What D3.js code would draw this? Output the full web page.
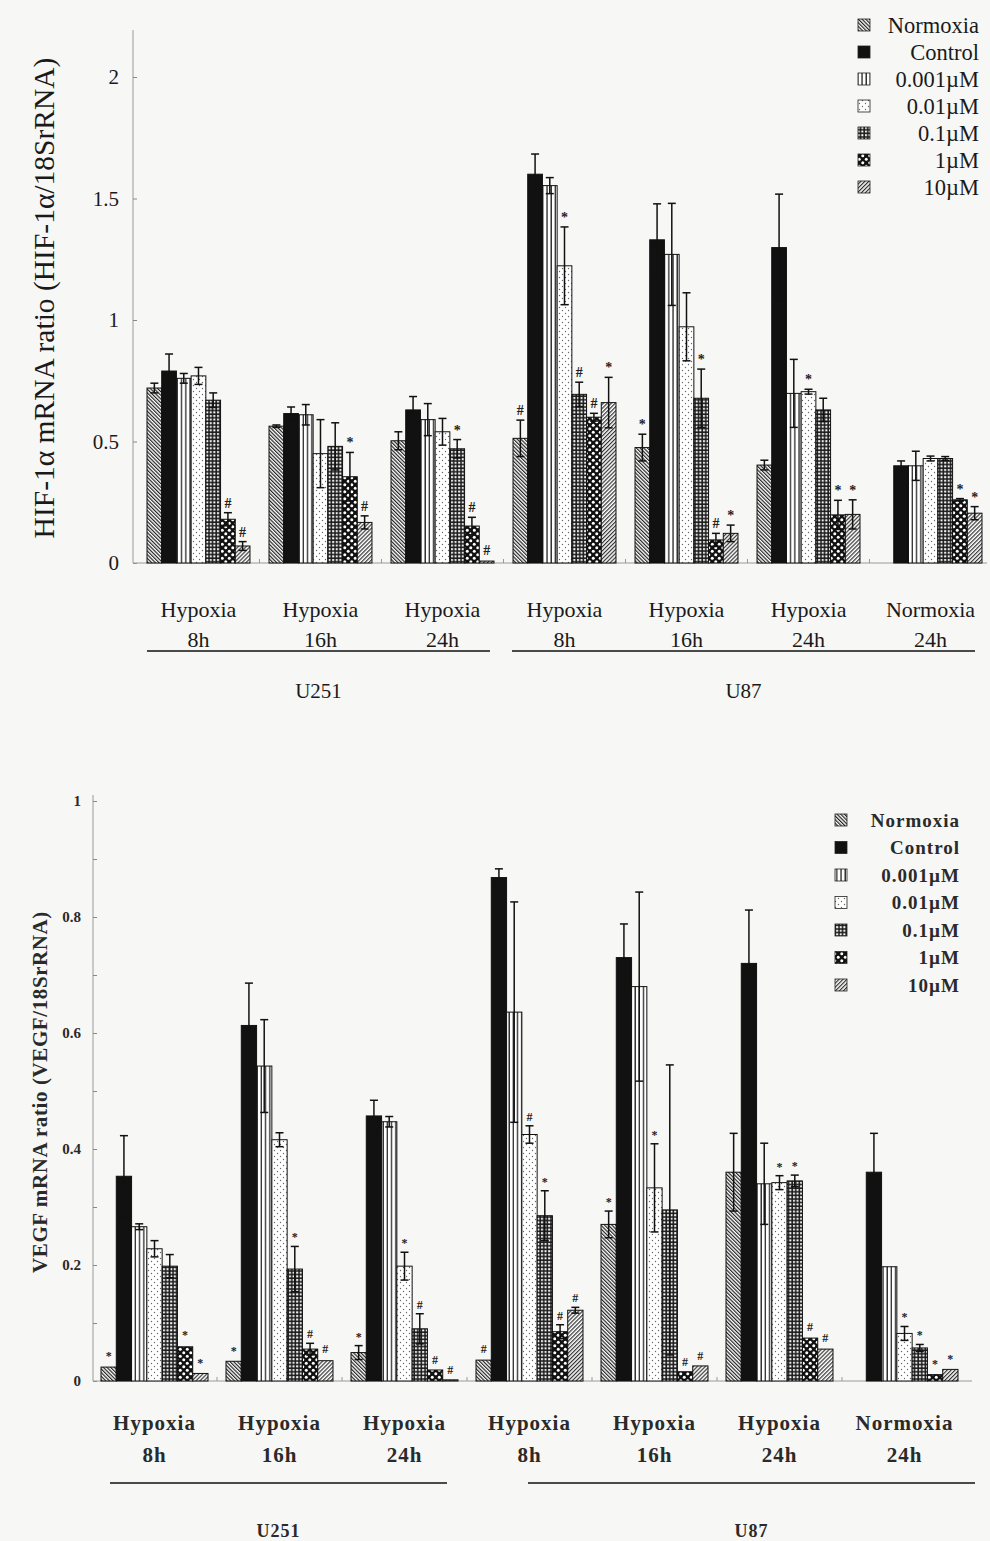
<!DOCTYPE html>
<html>
<head>
<meta charset="utf-8">
<script src="https://cdn.jsdelivr.net/npm/d3@7"></script>
<style>
  body { margin: 0; background: #f7f7f5; }
  svg { display: block; }
</style>
</head>
<body>
<svg id="fig"></svg>
<script>
// ---- data ----
const series = ["Normoxia", "Control", "0.001\u00b5M", "0.01\u00b5M", "0.1\u00b5M", "1\u00b5M", "10\u00b5M"];
const groupIds = ["U251-H8", "U251-H16", "U251-H24", "U87-H8", "U87-H16", "U87-H24", "U87-N24"];
const conditions = ["Hypoxia", "Hypoxia", "Hypoxia", "Hypoxia", "Hypoxia", "Hypoxia", "Normoxia"];
const times = ["8h", "16h", "24h", "8h", "16h", "24h", "24h"];
const cellLines = ["U251", "U87"];
const cellLineSpan = [[0, 2], [3, 6]];

// HIF-1a (top panel), one row per group, one column per series
const hifValues = [
    [0.72, 0.79, 0.76, 0.77, 0.67, 0.18, 0.07],
    [0.563, 0.615, 0.61, 0.45, 0.48, 0.355, 0.167],
    [0.503, 0.63, 0.59, 0.54, 0.47, 0.152, 0.008],
    [0.513, 1.60, 1.553, 1.223, 0.694, 0.60, 0.66],
    [0.475, 1.33, 1.27, 0.972, 0.678, 0.095, 0.122],
    [0.403, 1.298, 0.698, 0.705, 0.63, 0.198, 0.20],
    [null, 0.40, 0.40, 0.43, 0.43, 0.26, 0.205],
];
const hifErrors = [
    [0.02, 0.07, 0.02, 0.035, 0.03, 0.027, 0.018],
    [0.005, 0.027, 0.042, 0.14, 0.097, 0.10, 0.027],
    [0.037, 0.055, 0.066, 0.055, 0.038, 0.036, 0.003],
    [0.075, 0.083, 0.033, 0.16, 0.05, 0.016, 0.104],
    [0.055, 0.148, 0.21, 0.14, 0.12, 0.027, 0.034],
    [0.02, 0.22, 0.14, 0.01, 0.048, 0.06, 0.06],
    [0, 0.02, 0.06, 0.01, 0.008, 0.005, 0.027],
];
const hifMarks = [
    ["", "", "", "", "", "#", "#"],
    ["", "", "", "", "", "*", "#"],
    ["", "", "", "", "*", "#", "#"],
    ["#", "", "", "*", "#", "#", "*"],
    ["*", "", "", "", "*", "#", "*"],
    ["", "", "", "*", "", "*", "*"],
    ["", "", "", "", "", "*", "*"],
];

// VEGF (bottom panel)
const vegfValues = [
    [0.024, 0.353, 0.266, 0.228, 0.198, 0.059, 0.013],
    [0.034, 0.613, 0.543, 0.416, 0.193, 0.055, 0.035],
    [0.049, 0.457, 0.447, 0.198, 0.09, 0.019, 0.002],
    [0.036, 0.868, 0.636, 0.425, 0.285, 0.085, 0.122],
    [0.27, 0.73, 0.68, 0.333, 0.295, 0.016, 0.026],
    [0.36, 0.72, 0.34, 0.342, 0.345, 0.074, 0.055],
    [null, 0.36, 0.197, 0.082, 0.057, 0.011, 0.02],
];
const vegfErrors = [
    [0.003, 0.07, 0.005, 0.014, 0.02, 0.004, 0.002],
    [0.003, 0.073, 0.08, 0.012, 0.039, 0.01, 0.004],
    [0.012, 0.027, 0.009, 0.024, 0.026, 0.002, 0.001],
    [0.004, 0.015, 0.19, 0.015, 0.043, 0.012, 0.005],
    [0.023, 0.058, 0.163, 0.076, 0.25, 0.002, 0.002],
    [0.067, 0.092, 0.07, 0.012, 0.01, 0.004, 0.003],
    [0, 0.067, 0.003, 0.012, 0.006, 0.002, 0.003],
];
const vegfMarks = [
    ["*", "", "", "", "", "*", "*"],
    ["*", "", "", "", "*", "#", "#"],
    ["*", "", "", "*", "#", "#", "#"],
    ["#", "", "", "#", "*", "#", "#"],
    ["*", "", "", "*", "", "#", "#"],
    ["", "", "", "*", "*", "#", "#"],
    ["", "", "", "*", "*", "*", "*"],
];

const hifTicks = [0, 0.5, 1, 1.5, 2];
const vegfTicks = [0, 0.1, 0.2, 0.3, 0.4, 0.5, 0.6, 0.7, 0.8, 0.9, 1];
const vegfLabelled = [0, 0.2, 0.4, 0.6, 0.8, 1];

// ---- drawing ----
const W = 990, H = 1541;
const svg = d3.select("#fig").attr("width", W).attr("height", H);
svg.append("rect").attr("width", W).attr("height", H).attr("fill", "#f7f7f5");
const defs = svg.append("defs");

function makePatterns(sfx) {
    // Normoxia: "\" hatch
    let p = defs.append("pattern").attr("id", "p0" + sfx).attr("patternUnits", "userSpaceOnUse")
        .attr("width", 2.6).attr("height", 10).attr("patternTransform", "rotate(-45)");
    p.append("rect").attr("width", 2.6).attr("height", 10).attr("fill", "#fff");
    p.append("line").attr("x1", 0.6).attr("x2", 0.6).attr("y1", 0).attr("y2", 10).attr("stroke", "#222").attr("stroke-width", 1.2);
    // Control: solid black
    p = defs.append("pattern").attr("id", "p1" + sfx).attr("patternUnits", "userSpaceOnUse").attr("width", 4).attr("height", 4);
    p.append("rect").attr("width", 4).attr("height", 4).attr("fill", "#111");
    // 0.001: vertical lines
    p = defs.append("pattern").attr("id", "p2" + sfx).attr("patternUnits", "userSpaceOnUse").attr("width", 4.2).attr("height", 4);
    p.append("rect").attr("width", 4.2).attr("height", 4).attr("fill", "#fff");
    p.append("line").attr("x1", 1).attr("x2", 1).attr("y1", 0).attr("y2", 4).attr("stroke", "#111").attr("stroke-width", 1.2);
    // 0.01: sparse dots
    p = defs.append("pattern").attr("id", "p3" + sfx).attr("patternUnits", "userSpaceOnUse").attr("width", 6).attr("height", 6);
    p.append("rect").attr("width", 6).attr("height", 6).attr("fill", "#fff");
    p.append("circle").attr("cx", 1.5).attr("cy", 1.5).attr("r", 0.7).attr("fill", "#666");
    p.append("circle").attr("cx", 4.5).attr("cy", 4.5).attr("r", 0.7).attr("fill", "#666");
    // 0.1: dark grid with small white squares
    p = defs.append("pattern").attr("id", "p4" + sfx).attr("patternUnits", "userSpaceOnUse").attr("width", 3.6).attr("height", 3.6);
    p.append("rect").attr("width", 3.6).attr("height", 3.6).attr("fill", "#1a1a1a");
    p.append("rect").attr("x", 1).attr("y", 1).attr("width", 2).attr("height", 2).attr("fill", "#fff");
    // 1: black with white circles
    p = defs.append("pattern").attr("id", "p5" + sfx).attr("patternUnits", "userSpaceOnUse").attr("width", 7).attr("height", 7);
    p.append("rect").attr("width", 7).attr("height", 7).attr("fill", "#111");
    p.append("circle").attr("cx", 1.75).attr("cy", 1.75).attr("r", 1.5).attr("fill", "#fff");
    p.append("circle").attr("cx", 5.25).attr("cy", 5.25).attr("r", 1.5).attr("fill", "#fff");
    // 10: "/" hatch
    p = defs.append("pattern").attr("id", "p6" + sfx).attr("patternUnits", "userSpaceOnUse")
        .attr("width", 2.8).attr("height", 10).attr("patternTransform", "rotate(45)");
    p.append("rect").attr("width", 2.8).attr("height", 10).attr("fill", "#fff");
    p.append("line").attr("x1", 0.6).attr("x2", 0.6).attr("y1", 0).attr("y2", 10).attr("stroke", "#333").attr("stroke-width", 1.2);
}

function drawChart(c) {
    makePatterns(c.id);
    const fill = (i) => "url(#p" + i + c.id + ")";
    const g = svg.append("g").attr("font-family", "'Liberation Serif', 'Times New Roman', serif")
        .attr("font-weight", c.bold ? "bold" : "normal");

    const y = d3.scaleLinear().domain(c.yDomain).range(c.yRange);
    const xGroup = d3.scaleBand().domain(groupIds).range(c.xRange).paddingInner(c.padInner);
    const xSeries = d3.scaleBand().domain(series).range([0, xGroup.bandwidth()]);
    const base = y(0);

    // y axis
    const yAxis = g.append("g").attr("transform", "translate(" + c.axisX + ",0)")
        .call(d3.axisLeft(y).tickValues(c.ticks).tickSize(-4).tickPadding(c.tickPad)
            .tickFormat((d) => c.labelled.some((v) => Math.abs(v - d) < 1e-9) ? d3.format("~g")(d) : ""));
    yAxis.select(".domain").attr("stroke", "#9a9a9a").attr("d", "M0," + c.yTop + "V" + base);
    yAxis.selectAll(".tick line").attr("stroke", "#888");
    yAxis.selectAll(".tick text").attr("font-size", c.tickFont).attr("fill", c.textColor)
        .attr("font-family", "'Liberation Serif', serif").attr("font-weight", c.bold ? "bold" : "normal");

    // x axis baseline and group boundary ticks
    g.append("line").attr("x1", c.axisX).attr("x2", c.axisEnd).attr("y1", base).attr("y2", base)
        .attr("stroke", "#9a9a9a").attr("stroke-width", 1);
    groupIds.slice(1).forEach((id, i) => {
        const bx = (xGroup(groupIds[i]) + xGroup.bandwidth() + xGroup(id)) / 2;
        g.append("line").attr("x1", bx).attr("x2", bx).attr("y1", base).attr("y2", base - 4)
            .attr("stroke", "#999");
    });

    // bars
    const rows = [];
    c.values.forEach((vals, gi) => vals.forEach((v, si) => {
        if (v !== null) rows.push({gi, si, v, e: c.errors[gi][si], m: c.marks[gi][si]});
    }));
    const bx = (d) => xGroup(groupIds[d.gi]) + xSeries(series[d.si]);
    const bw = xSeries.bandwidth();

    g.append("g").selectAll("rect").data(rows).enter().append("rect")
        .attr("x", bx).attr("y", (d) => y(d.v))
        .attr("width", bw).attr("height", (d) => base - y(d.v))
        .attr("fill", (d) => fill(d.si)).attr("stroke", "#111").attr("stroke-width", 1);

    // error bars
    const eg = g.append("g").attr("stroke", "#111").attr("stroke-width", 1.5);
    const cap = c.capW / 2;
    rows.filter((d) => d.e > 0.004).forEach((d) => {
        const cx = bx(d) + bw / 2;
        const y1 = y(d.v + d.e), y0 = y(Math.max(0, d.v - d.e));
        eg.append("line").attr("x1", cx).attr("x2", cx).attr("y1", y1).attr("y2", y0);
        eg.append("line").attr("x1", cx - cap).attr("x2", cx + cap).attr("y1", y1).attr("y2", y1);
        eg.append("line").attr("x1", cx - cap).attr("x2", cx + cap).attr("y1", y0).attr("y2", y0);
    });

    // significance marks
    g.append("g").selectAll("text").data(rows.filter((d) => d.m)).enter().append("text")
        .attr("x", (d) => bx(d) + bw / 2)
        .attr("y", (d) => y(d.v + d.e) - 5)
        .attr("text-anchor", "middle").attr("font-size", c.markFont).attr("font-weight", "bold")
        .attr("fill", "#222").text((d) => d.m);

    // y title
    g.append("text").attr("transform", "translate(" + c.titleX + "," + c.titleY + ") rotate(-90)")
        .attr("text-anchor", "middle").attr("font-size", c.titleFont).attr("fill", c.textColor)
        .attr("letter-spacing", c.titleLetter).text(c.title);

    // group labels
    const gl = g.append("g").attr("font-size", c.labelFont).attr("fill", c.textColor)
        .attr("text-anchor", "middle").attr("letter-spacing", c.letter);
    groupIds.forEach((id, i) => {
        const cx = xGroup(id) + xGroup.bandwidth() / 2;
        gl.append("text").attr("x", cx).attr("y", c.labelY1).text(conditions[i]);
        gl.append("text").attr("x", cx).attr("y", c.labelY2).text(times[i]);
    });

    // cell line brackets
    cellLines.forEach((name, k) => {
        const [a, b] = cellLineSpan[k];
        const x1 = xGroup(groupIds[a]) + c.lineInset[k][0];
        const x2 = xGroup(groupIds[b]) + xGroup.bandwidth() + c.lineInset[k][1];
        g.append("line").attr("x1", x1).attr("x2", x2).attr("y1", c.lineY).attr("y2", c.lineY)
            .attr("stroke", "#111").attr("stroke-width", 1.6);
        g.append("text").attr("x", (x1 + x2) / 2).attr("y", c.cellY).attr("text-anchor", "middle")
            .attr("font-size", c.cellFont).attr("fill", c.textColor).attr("letter-spacing", c.letter).text(name);
    });

    // legend
    const lg = g.append("g");
    series.forEach((s, i) => {
        const ly = c.legY + i * c.legStep;
        lg.append("rect").attr("x", c.legBoxX).attr("y", ly - c.legBox / 2).attr("width", c.legBox).attr("height", c.legBox)
            .attr("fill", fill(i)).attr("stroke", "#222").attr("stroke-width", 0.8);
        lg.append("text").attr("x", c.legTextX).attr("y", ly).attr("dy", "0.35em").attr("text-anchor", "end")
            .attr("font-size", c.legFont).attr("fill", c.textColor).attr("letter-spacing", c.letter).text(s);
    });
}

drawChart({
    id: "hif", values: hifValues, errors: hifErrors, marks: hifMarks,
    yDomain: [0, 2.2], yRange: [563, 28.4], yTop: 30, ticks: hifTicks, labelled: hifTicks,
    axisX: 133, axisEnd: 987, xRange: [147, 982], padInner: 0.156,
    bold: false, textColor: "#1a1a1a", tickFont: 21, tickPad: 14, markFont: 14, capW: 8,
    title: "HIF-1\u03b1 mRNA ratio (HIF-1\u03b1/18SrRNA)", titleX: 54, titleY: 298, titleFont: 29.5, titleLetter: 0,
    letter: 0, labelFont: 22, labelY1: 617, labelY2: 647, lineY: 651, lineInset: [[0, -4], [-1, -7]],
    cellY: 698, cellFont: 21,
    legY: 25, legStep: 27, legBoxX: 858, legBox: 12, legTextX: 979, legFont: 22.5,
});

drawChart({
    id: "vegf", values: vegfValues, errors: vegfErrors, marks: vegfMarks,
    yDomain: [0, 1], yRange: [1381, 801], yTop: 795, ticks: vegfTicks, labelled: vegfLabelled,
    axisX: 93, axisEnd: 972, xRange: [101, 958], padInner: 0.144,
    bold: true, textColor: "#2a2a2a", tickFont: 15, tickPad: 12, markFont: 12, capW: 8,
    title: "VEGF mRNA ratio (VEGF/18SrRNA)", titleX: 47, titleY: 1092, titleFont: 21, titleLetter: 0.6,
    letter: 1, labelFont: 21, labelY1: 1430, labelY2: 1462, lineY: 1483, lineInset: [[9, -11], [52, 17]],
    cellY: 1537, cellFont: 18,
    legY: 820, legStep: 27.5, legBoxX: 835, legBox: 12, legTextX: 960, legFont: 19,
});
</script>
</body>
</html>
